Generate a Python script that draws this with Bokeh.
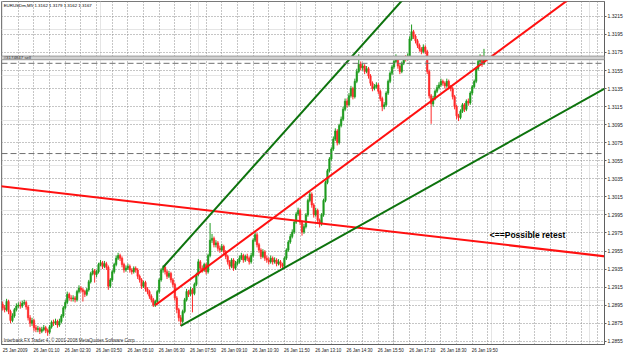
from bokeh.plotting import figure
from bokeh.models import (FixedTicker, LinearAxis, Grid, Span, Label, ColumnDataSource,
                          Range1d, NumeralTickFormatter)
from bokeh.embed import file_html
from bokeh.resources import INLINE

# ---------------- data (EURUSDm, M5) ----------------
opens = [
    1.2896, 1.2892, 1.2890, 1.2899, 1.2888, 1.2878, 1.2883, 1.2890, 1.2894, 1.2895,
    1.2894, 1.2897, 1.2898, 1.2893, 1.2881, 1.2875, 1.2878, 1.2870, 1.2868, 1.2869,
    1.2866, 1.2868, 1.2870, 1.2867, 1.2865, 1.2871, 1.2876, 1.2875, 1.2877, 1.2873,
    1.2877, 1.2883, 1.2892, 1.2898, 1.2907, 1.2903, 1.2902, 1.2903, 1.2901, 1.2910,
    1.2914, 1.2912, 1.2910, 1.2907, 1.2912, 1.2921, 1.2930, 1.2933, 1.2929, 1.2932,
    1.2940, 1.2942, 1.2938, 1.2941, 1.2937, 1.2916, 1.2923, 1.2932, 1.2940, 1.2947,
    1.2950, 1.2947, 1.2940, 1.2934, 1.2936, 1.2938, 1.2934, 1.2932, 1.2936, 1.2934,
    1.2927, 1.2923, 1.2916, 1.2920, 1.2913, 1.2910, 1.2905, 1.2901, 1.2895, 1.2899,
    1.2910, 1.2923, 1.2934, 1.2937, 1.2932, 1.2927, 1.2930, 1.2923, 1.2918, 1.2903,
    1.2890, 1.2881, 1.2877, 1.2888, 1.2901, 1.2910, 1.2907, 1.2912, 1.2908, 1.2918,
    1.2929, 1.2943, 1.2936, 1.2934, 1.2940, 1.2932, 1.2950, 1.2967, 1.2969, 1.2962,
    1.2964, 1.2958, 1.2956, 1.2960, 1.2954, 1.2949, 1.2943, 1.2938, 1.2945, 1.2936,
    1.2941, 1.2943, 1.2947, 1.2950, 1.2945, 1.2949, 1.2947, 1.2943, 1.2950, 1.2967,
    1.2973, 1.2962, 1.2956, 1.2949, 1.2954, 1.2947, 1.2945, 1.2943, 1.2947, 1.2943,
    1.2945, 1.2941, 1.2943, 1.2940, 1.2938, 1.2947, 1.2956, 1.2965, 1.2971, 1.2976,
    1.2987, 1.2996, 1.3000, 1.2987, 1.2976, 1.2982, 1.2995, 1.3011, 1.3018, 1.3006,
    1.2995, 1.3000, 1.2989, 1.2985, 1.2995, 1.3011, 1.3031, 1.3044, 1.3057, 1.3068,
    1.3079, 1.3088, 1.3075, 1.3094, 1.3101, 1.3112, 1.3121, 1.3117, 1.3127, 1.3135,
    1.3126, 1.3143, 1.3154, 1.3162, 1.3158, 1.3160, 1.3154, 1.3157, 1.3149, 1.3141,
    1.3135, 1.3137, 1.3139, 1.3132, 1.3124, 1.3115, 1.3117, 1.3130, 1.3143, 1.3152,
    1.3159, 1.3165, 1.3169, 1.3160, 1.3154, 1.3163, 1.3169, 1.3168, 1.3171, 1.3190,
    1.3198, 1.3193, 1.3188, 1.3183, 1.3179, 1.3176, 1.3181, 1.3176, 1.3154, 1.3127,
    1.3118, 1.3124, 1.3132, 1.3136, 1.3139, 1.3143, 1.3141, 1.3138, 1.3143, 1.3137,
    1.3135, 1.3126, 1.3115, 1.3105, 1.3103, 1.3110, 1.3117, 1.3112, 1.3121, 1.3119,
    1.3130, 1.3137, 1.3143, 1.3157, 1.3165, 1.3170, 1.3162,
]
highs = [
    1.2899, 1.2895, 1.2902, 1.2901, 1.2890, 1.2886, 1.2892, 1.2897, 1.2898, 1.2899,
    1.2900, 1.2901, 1.2900, 1.2895, 1.2884, 1.2881, 1.2880, 1.2873, 1.2872, 1.2871,
    1.2871, 1.2873, 1.2872, 1.2869, 1.2873, 1.2878, 1.2879, 1.2880, 1.2879, 1.2880,
    1.2885, 1.2894, 1.2901, 1.2910, 1.2909, 1.2906, 1.2906, 1.2905, 1.2912, 1.2917,
    1.2916, 1.2914, 1.2912, 1.2914, 1.2923, 1.2932, 1.2936, 1.2935, 1.2934, 1.2942,
    1.2945, 1.2944, 1.2944, 1.2943, 1.2939, 1.2925, 1.2934, 1.2942, 1.2950, 1.2953,
    1.2952, 1.2949, 1.2942, 1.2939, 1.2941, 1.2940, 1.2936, 1.2938, 1.2938, 1.2936,
    1.2929, 1.2925, 1.2922, 1.2922, 1.2915, 1.2912, 1.2907, 1.2903, 1.2901, 1.2912,
    1.2925, 1.2936, 1.2939, 1.2939, 1.2934, 1.2933, 1.2932, 1.2925, 1.2920, 1.2905,
    1.2892, 1.2884, 1.2890, 1.2903, 1.2913, 1.2912, 1.2915, 1.2914, 1.2920, 1.2931,
    1.2946, 1.2945, 1.2939, 1.2942, 1.2942, 1.2952, 1.2986, 1.2974, 1.2971, 1.2967,
    1.2966, 1.2961, 1.2963, 1.2962, 1.2956, 1.2951, 1.2945, 1.2947, 1.2947, 1.2944,
    1.2946, 1.2950, 1.2953, 1.2952, 1.2951, 1.2952, 1.2949, 1.2953, 1.2969, 1.2977,
    1.2975, 1.2964, 1.2958, 1.2957, 1.2956, 1.2950, 1.2948, 1.2950, 1.2949, 1.2948,
    1.2947, 1.2946, 1.2945, 1.2942, 1.2949, 1.2958, 1.2967, 1.2974, 1.2979, 1.2989,
    1.2998, 1.3003, 1.3002, 1.2989, 1.2985, 1.2997, 1.3013, 1.3021, 1.3020, 1.3008,
    1.3003, 1.3002, 1.2991, 1.2997, 1.3013, 1.3033, 1.3046, 1.3059, 1.3070, 1.3082,
    1.3091, 1.3090, 1.3096, 1.3104, 1.3115, 1.3124, 1.3124, 1.3130, 1.3138, 1.3137,
    1.3146, 1.3157, 1.3173, 1.3165, 1.3163, 1.3162, 1.3160, 1.3159, 1.3151, 1.3143,
    1.3140, 1.3142, 1.3141, 1.3134, 1.3126, 1.3120, 1.3132, 1.3145, 1.3154, 1.3161,
    1.3168, 1.3173, 1.3171, 1.3162, 1.3165, 1.3171, 1.3172, 1.3174, 1.3193, 1.3206,
    1.3200, 1.3195, 1.3190, 1.3185, 1.3181, 1.3184, 1.3183, 1.3178, 1.3156, 1.3129,
    1.3127, 1.3134, 1.3139, 1.3142, 1.3146, 1.3145, 1.3143, 1.3146, 1.3145, 1.3139,
    1.3137, 1.3128, 1.3117, 1.3107, 1.3112, 1.3119, 1.3119, 1.3123, 1.3124, 1.3132,
    1.3139, 1.3145, 1.3159, 1.3167, 1.3173, 1.3172, 1.3179,
]
lows = [
    1.2889, 1.2887, 1.2888, 1.2885, 1.2875, 1.2876, 1.2881, 1.2888, 1.2892, 1.2891,
    1.2892, 1.2895, 1.2890, 1.2878, 1.2871, 1.2872, 1.2866, 1.2865, 1.2865, 1.2863,
    1.2864, 1.2866, 1.2864, 1.2861, 1.2863, 1.2869, 1.2872, 1.2873, 1.2870, 1.2871,
    1.2875, 1.2881, 1.2890, 1.2896, 1.2900, 1.2899, 1.2899, 1.2898, 1.2899, 1.2908,
    1.2909, 1.2899, 1.2904, 1.2905, 1.2910, 1.2919, 1.2928, 1.2920, 1.2926, 1.2930,
    1.2938, 1.2935, 1.2936, 1.2934, 1.2912, 1.2914, 1.2921, 1.2930, 1.2938, 1.2945,
    1.2944, 1.2937, 1.2931, 1.2932, 1.2934, 1.2931, 1.2929, 1.2930, 1.2931, 1.2924,
    1.2920, 1.2913, 1.2914, 1.2910, 1.2907, 1.2902, 1.2898, 1.2893, 1.2893, 1.2897,
    1.2908, 1.2921, 1.2931, 1.2929, 1.2924, 1.2925, 1.2920, 1.2915, 1.2900, 1.2886,
    1.2877, 1.2872, 1.2875, 1.2886, 1.2899, 1.2904, 1.2905, 1.2887, 1.2906, 1.2916,
    1.2927, 1.2933, 1.2931, 1.2932, 1.2929, 1.2930, 1.2948, 1.2964, 1.2959, 1.2959,
    1.2955, 1.2953, 1.2954, 1.2951, 1.2946, 1.2940, 1.2935, 1.2936, 1.2933, 1.2934,
    1.2939, 1.2941, 1.2945, 1.2942, 1.2943, 1.2944, 1.2940, 1.2941, 1.2948, 1.2965,
    1.2959, 1.2953, 1.2946, 1.2947, 1.2944, 1.2942, 1.2940, 1.2941, 1.2940, 1.2941,
    1.2938, 1.2939, 1.2936, 1.2935, 1.2936, 1.2945, 1.2954, 1.2963, 1.2969, 1.2974,
    1.2985, 1.2994, 1.2984, 1.2972, 1.2974, 1.2980, 1.2993, 1.3009, 1.3003, 1.2992,
    1.2993, 1.2986, 1.2981, 1.2983, 1.2993, 1.3009, 1.3029, 1.3042, 1.3055, 1.3066,
    1.3077, 1.3072, 1.3073, 1.3092, 1.3099, 1.3110, 1.3114, 1.3115, 1.3125, 1.3123,
    1.3124, 1.3141, 1.3152, 1.3155, 1.3155, 1.3151, 1.3152, 1.3146, 1.3138, 1.3132,
    1.3133, 1.3135, 1.3129, 1.3121, 1.3110, 1.3112, 1.3115, 1.3128, 1.3141, 1.3150,
    1.3157, 1.3163, 1.3157, 1.3151, 1.3152, 1.3161, 1.3165, 1.3166, 1.3169, 1.3188,
    1.3190, 1.3185, 1.3180, 1.3176, 1.3173, 1.3174, 1.3173, 1.3151, 1.3124, 1.3096,
    1.3115, 1.3122, 1.3130, 1.3134, 1.3137, 1.3138, 1.3135, 1.3136, 1.3134, 1.3132,
    1.3123, 1.3112, 1.3101, 1.3099, 1.3101, 1.3108, 1.3109, 1.3110, 1.3116, 1.3117,
    1.3128, 1.3135, 1.3141, 1.3155, 1.3163, 1.3159, 1.3162,
]
closes = [
    1.2892, 1.2890, 1.2899, 1.2888, 1.2878, 1.2883, 1.2890, 1.2894, 1.2895, 1.2894,
    1.2897, 1.2898, 1.2893, 1.2881, 1.2875, 1.2878, 1.2870, 1.2868, 1.2869, 1.2866,
    1.2868, 1.2870, 1.2867, 1.2865, 1.2871, 1.2876, 1.2875, 1.2877, 1.2873, 1.2877,
    1.2883, 1.2892, 1.2898, 1.2907, 1.2903, 1.2902, 1.2903, 1.2901, 1.2910, 1.2914,
    1.2912, 1.2910, 1.2907, 1.2912, 1.2921, 1.2930, 1.2933, 1.2929, 1.2932, 1.2940,
    1.2942, 1.2938, 1.2941, 1.2937, 1.2916, 1.2923, 1.2932, 1.2940, 1.2947, 1.2950,
    1.2947, 1.2940, 1.2934, 1.2936, 1.2938, 1.2934, 1.2932, 1.2936, 1.2934, 1.2927,
    1.2923, 1.2916, 1.2920, 1.2913, 1.2910, 1.2905, 1.2901, 1.2895, 1.2899, 1.2910,
    1.2923, 1.2934, 1.2937, 1.2932, 1.2927, 1.2930, 1.2923, 1.2918, 1.2903, 1.2890,
    1.2881, 1.2877, 1.2888, 1.2901, 1.2910, 1.2907, 1.2912, 1.2908, 1.2918, 1.2929,
    1.2943, 1.2936, 1.2934, 1.2940, 1.2932, 1.2950, 1.2967, 1.2969, 1.2962, 1.2964,
    1.2958, 1.2956, 1.2960, 1.2954, 1.2949, 1.2943, 1.2938, 1.2945, 1.2936, 1.2941,
    1.2943, 1.2947, 1.2950, 1.2945, 1.2949, 1.2947, 1.2943, 1.2950, 1.2967, 1.2973,
    1.2962, 1.2956, 1.2949, 1.2954, 1.2947, 1.2945, 1.2943, 1.2947, 1.2943, 1.2945,
    1.2941, 1.2943, 1.2940, 1.2938, 1.2947, 1.2956, 1.2965, 1.2971, 1.2976, 1.2987,
    1.2996, 1.3000, 1.2987, 1.2976, 1.2982, 1.2995, 1.3011, 1.3018, 1.3006, 1.2995,
    1.3000, 1.2989, 1.2985, 1.2995, 1.3011, 1.3031, 1.3044, 1.3057, 1.3068, 1.3079,
    1.3088, 1.3075, 1.3094, 1.3101, 1.3112, 1.3121, 1.3117, 1.3127, 1.3135, 1.3126,
    1.3143, 1.3154, 1.3162, 1.3158, 1.3160, 1.3154, 1.3157, 1.3149, 1.3141, 1.3135,
    1.3137, 1.3139, 1.3132, 1.3124, 1.3115, 1.3117, 1.3130, 1.3143, 1.3152, 1.3159,
    1.3165, 1.3169, 1.3160, 1.3154, 1.3163, 1.3169, 1.3168, 1.3171, 1.3190, 1.3198,
    1.3193, 1.3188, 1.3183, 1.3179, 1.3176, 1.3181, 1.3176, 1.3154, 1.3127, 1.3118,
    1.3124, 1.3132, 1.3136, 1.3139, 1.3143, 1.3141, 1.3138, 1.3143, 1.3137, 1.3135,
    1.3126, 1.3115, 1.3105, 1.3103, 1.3110, 1.3117, 1.3112, 1.3121, 1.3119, 1.3130,
    1.3137, 1.3143, 1.3157, 1.3165, 1.3170, 1.3162, 1.3167,
]

time_label_bars = [0, 16, 32, 48, 64, 80, 96, 112, 128, 144, 160, 176, 192, 208, 224, 240]
time_labels = ["25 Jan 2009", "26 Jan 01:10", "26 Jan 02:30", "26 Jan 03:50",
               "26 Jan 05:10", "26 Jan 06:30", "26 Jan 07:50", "26 Jan 09:10",
               "26 Jan 10:30", "26 Jan 11:50", "26 Jan 13:10", "26 Jan 14:30",
               "26 Jan 15:50", "26 Jan 17:10", "26 Jan 18:30", "26 Jan 19:50"]
price_ticks = [1.2855, 1.2875, 1.2895, 1.2915, 1.2935, 1.2955, 1.2975, 1.2995, 1.3015,
               1.3035, 1.3055, 1.3075, 1.3095, 1.3115, 1.3135, 1.3155, 1.3175, 1.3195, 1.3215]

# trend lines (bar index, price) anchor pairs
resist_x = [-10, 320]
resist_y = [1.3029, 1.2946]
mid_x = [78, 320]
mid_y = [1.2895, 1.3283]
upper_x = [82, 220]
upper_y = [1.2937, 1.3271]
lower_x = [91, 320]
lower_y = [1.2872, 1.3150]

bid = 1.3167
order_price = 1.3171
level_lines = [1.3163, 1.3063]
header = "EURUSDm,M5  1.3162 1.3179 1.3162 1.3167"
note = "<==Possible retest"
note_x, note_y = 249, 1.2973
copyright_text = "Interbank FX Trader 4, \u00a9 2001-2008 MetaQuotes Software Corp."
order_text = "#3174847 sell"

# ---------------- figure ----------------
n = min(len(opens), len(highs), len(lows), len(closes))
GREEN = "#1e9b1e"
RED = "#ff2a2a"
idx = list(range(n))
colors = [GREEN if closes[i] >= opens[i] else RED for i in range(n)]
src = ColumnDataSource(dict(
    x=idx, o=opens[:n], h=highs[:n], l=lows[:n], c=closes[:n], col=colors,
    top=[max(opens[i], closes[i]) for i in range(n)],
    bot=[min(opens[i], closes[i]) for i in range(n)],
))

FONT = "Liberation Sans"
p = figure(width=625, height=355,
           x_range=Range1d(-0.6, 307.6), y_range=Range1d(1.28514, 1.32315),
           x_axis_location=None, y_axis_location=None,
           toolbar_location=None, output_backend="svg",
           min_border_left=1, min_border_top=1, min_border_right=0, min_border_bottom=0)
p.background_fill_color = "white"
p.border_fill_color = "white"
p.outline_line_color = "#7a7a7a"
p.outline_line_width = 1

yax = LinearAxis(ticker=FixedTicker(ticks=price_ticks),
                 formatter=NumeralTickFormatter(format="0.0000"))
yax.major_label_text_font_size = "5px"
yax.major_label_text_font = FONT
yax.major_label_text_color = "#202020"
yax.major_tick_out = 2
yax.major_tick_in = 0
yax.minor_tick_line_color = None
yax.major_label_standoff = 1
yax.axis_line_color = "#606060"
yax.major_tick_line_color = "#606060"
p.add_layout(yax, "right")

# time labels: MT4 writes each label starting at its bar, so the centred
# Bokeh label is placed half a label width to the right of that bar
LABEL_SHIFT = 6.4
label_ticks = [b + LABEL_SHIFT for b in time_label_bars]
xax = LinearAxis(ticker=FixedTicker(ticks=label_ticks),
                 major_label_overrides={t: s for t, s in zip(label_ticks, time_labels)})
xax.major_label_text_font_size = "4.5px"
xax.major_label_text_font = FONT
xax.major_label_text_color = "#202020"
xax.major_tick_out = 0
xax.major_tick_in = 0
xax.major_tick_line_color = None
xax.minor_tick_line_color = None
xax.major_label_standoff = 3
xax.axis_line_color = "#606060"
p.add_layout(xax, "below")

p.add_layout(Grid(dimension=0, ticker=FixedTicker(ticks=list(range(8, 308, 8))),
                  grid_line_color="#8c8c8c", grid_line_dash="1 2", grid_line_width=1))
p.add_layout(Grid(dimension=1, ticker=FixedTicker(ticks=price_ticks),
                  grid_line_color="#8c8c8c", grid_line_dash="1 2", grid_line_width=1))

# horizontal levels
for lv in level_lines:
    p.add_layout(Span(location=lv, dimension="width", line_color="#707070",
                      line_dash="6 3", line_width=1))
p.add_layout(Span(location=(bid + order_price) / 2, dimension="width",
                  line_color="#d2d2d2", line_width=4))
p.add_layout(Span(location=order_price, dimension="width", line_color="#9a9a9a", line_width=1))
p.add_layout(Span(location=bid, dimension="width", line_color="#9a9a9a", line_width=1))

# candles
p.segment(x0="x", x1="x", y0="l", y1="h", source=src, line_color="col", line_width=1)
p.vbar(x="x", width=0.75, top="top", bottom="bot", source=src,
       fill_color="col", line_color="col", line_width=0.6)

# trend lines
p.line(resist_x, resist_y, line_color="#ff1010", line_width=2)
p.line(mid_x, mid_y, line_color="#ff1010", line_width=2)
p.line(upper_x, upper_y, line_color="#0d730d", line_width=2)
p.line(lower_x, lower_y, line_color="#0d730d", line_width=2)

# texts
p.add_layout(Label(x=0.5, y=1.32300, text=header, text_font=FONT, text_font_size="4.4px",
                   text_baseline="top", text_color="black"))
p.add_layout(Label(x=0.5, y=order_price - 0.0002, text=order_text, text_font=FONT,
                   text_font_size="4.4px", text_baseline="middle", text_color="#303030"))
p.add_layout(Label(x=0.5, y=1.28558, text=copyright_text, text_font=FONT,
                   text_font_size="4.6px", text_baseline="middle", text_color="#303030"))
p.add_layout(Label(x=note_x, y=note_y, text=note, text_font=FONT, text_font_size="8.5px",
                   text_font_style="bold", text_baseline="middle", text_color="black"))
p.add_layout(Label(x=308.6, y=bid, text="1.3167", text_font=FONT, text_font_size="5px",
                   text_baseline="middle", text_color="white", background_fill_color="black",
                   text_font_style="bold"))

open("out.html", "w").write(file_html(p, INLINE))
